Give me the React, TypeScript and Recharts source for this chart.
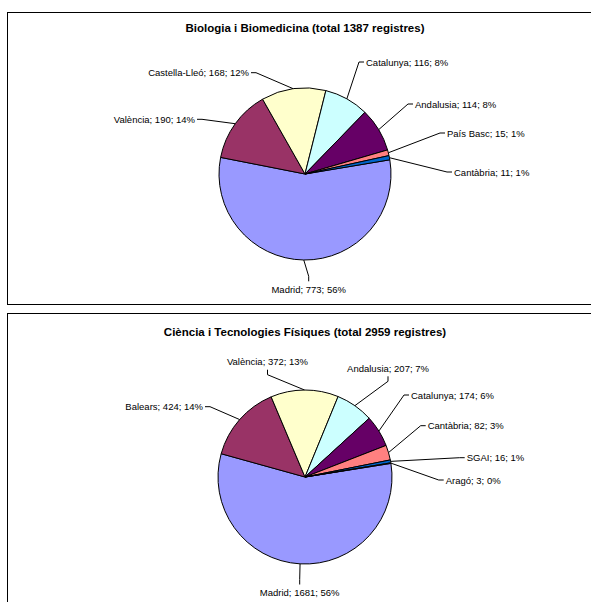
import React from 'react'
import { PieChart, Pie, Cell } from 'recharts'

// Biologia i Biomedicina
const bioRegions = ['Madrid', 'València', 'Castella-Lleó', 'Catalunya', 'Andalusia', 'País Basc', 'Cantàbria']
const bioCounts = [773, 190, 168, 116, 114, 15, 11]
const bioPercents = ['56%', '14%', '12%', '8%', '8%', '1%', '1%']

// Ciència i Tecnologies Físiques
const fisRegions = ['Madrid', 'Balears', 'València', 'Andalusia', 'Catalunya', 'Cantàbria', 'SGAI', 'Aragó']
const fisCounts = [1681, 424, 372, 207, 174, 82, 16, 3]
const fisPercents = ['56%', '14%', '13%', '7%', '6%', '3%', '1%', '0%']

const palette = ['#9999FF', '#993366', '#FFFFCC', '#CCFFFF', '#660066', '#FF8080', '#0066CC', '#CCCCFF']

// label placement, offsets from the pie centre (like labels dragged by hand in the original)
type Side = 'left' | 'right' | 'top' | 'bottom'
interface LabelPos { dx: number; dy: number; side: Side }

const bioLabelPos: LabelPos[] = [
  { dx: 3.7, dy: 115.3, side: 'top' },
  { dx: -110, dy: -54.7, side: 'right' },
  { dx: -56, dy: -101.3, side: 'right' },
  { dx: 61, dy: -112, side: 'left' },
  { dx: 110, dy: -70, side: 'left' },
  { dx: 142, dy: -41, side: 'left' },
  { dx: 149, dy: -2, side: 'left' },
]

const fisLabelPos: LabelPos[] = [
  { dx: -5.3, dy: 115.5, side: 'top' },
  { dx: -102, dy: -70.3, side: 'right' },
  { dx: -37.5, dy: -115.3, side: 'bottom' },
  { dx: 83, dy: -108.7, side: 'bottom' },
  { dx: 106, dy: -82, side: 'left' },
  { dx: 122.7, dy: -51.3, side: 'left' },
  { dx: 161.7, dy: -19.3, side: 'left' },
  { dx: 140.7, dy: 3, side: 'left' },
]

const FONT = '"Liberation Sans", Arial, sans-serif'
const RADIAN = Math.PI / 180

function makeLabel(regions: string[], percents: string[], layout: LabelPos[]) {
  return (props: any) => {
    const { cx, cy, midAngle, outerRadius, value } = props
    const name = props.name ?? props.payload?.name
    const i = regions.indexOf(name)
    const pos = layout[i]
    const ex = cx + outerRadius * Math.cos(-midAngle * RADIAN)
    const ey = cy + outerRadius * Math.sin(-midAngle * RADIAN)
    const tx = cx + pos.dx
    const ty = cy + pos.dy
    let pts: number[][]
    let anchor: 'start' | 'end' | 'middle'
    if (pos.side === 'left') {
      anchor = 'start'
      pts = [[ex, ey], [tx - 7, ty], [tx - 2, ty]]
    } else if (pos.side === 'right') {
      anchor = 'end'
      pts = [[ex, ey], [tx + 7, ty], [tx + 2, ty]]
    } else if (pos.side === 'bottom') {
      anchor = 'middle'
      pts = [[ex, ey], [tx, ty + 13], [tx, ty + 8]]
    } else {
      anchor = 'middle'
      pts = [[ex, ey], [tx, ty - 13], [tx, ty - 8]]
    }
    return (
      <g key={`lbl-${name}`}>
        <polyline points={pts.map((p) => p.join(',')).join(' ')} fill="none" stroke="#000" strokeWidth={1} />
        <text x={tx} y={ty} textAnchor={anchor} dominantBaseline="central" fontFamily={FONT} fontSize={9.5} fill="#000">
          {`${name}; ${value}; ${percents[i]}`}
        </text>
      </g>
    )
  }
}

interface PanelProps {
  title: string
  regions: string[]
  counts: number[]
  percents: string[]
  layout: LabelPos[]
  top: number
  height: number
  titleTop: number
  cy: number
  radius: number
  startAngle: number
}

function PiePanel({ title, regions, counts, percents, layout, top, height, titleTop, cy, radius, startAngle }: PanelProps) {
  const data = regions.map((name, i) => ({ name, value: counts[i] }))
  return (
    <div
      style={{
        position: 'absolute',
        left: 7,
        top,
        width: 600,
        height,
        boxSizing: 'border-box',
        border: '1px solid #000',
        background: '#fff',
      }}
    >
      <div
        style={{
          position: 'absolute',
          left: 0,
          top: titleTop,
          width: 594,
          textAlign: 'center',
          fontFamily: FONT,
          fontWeight: 'bold',
          fontSize: 11.5,
          lineHeight: '14px',
          color: '#000',
        }}
      >
        {title}
      </div>
      <div style={{ position: 'absolute', left: 0, top: 0 }}>
        <PieChart width={590} height={height} margin={{ top: 0, right: 0, bottom: 0, left: 0 }}>
          <Pie
            data={data}
            dataKey="value"
            nameKey="name"
            cx={297}
            cy={cy}
            outerRadius={radius}
            startAngle={startAngle}
            endAngle={startAngle - 360}
            stroke="#000"
            strokeWidth={1}
            label={makeLabel(regions, percents, layout)}
            labelLine={false}
            isAnimationActive={false}
          >
            {data.map((entry, index) => (
              <Cell key={entry.name} fill={palette[index % palette.length]} />
            ))}
          </Pie>
        </PieChart>
      </div>
    </div>
  )
}

export default function App() {
  return (
    <div style={{ position: 'fixed', left: 0, top: 0, width: 591, height: 602, overflow: 'hidden', background: '#fff' }}>
      <PiePanel
        title="Biologia i Biomedicina (total 1387 registres)"
        regions={bioRegions}
        counts={bioCounts}
        percents={bioPercents}
        layout={bioLabelPos}
        top={12}
        height={293}
        titleTop={8}
        cy={161}
        radius={86}
        startAngle={9.5}
      />
      <PiePanel
        title="Ciència i Tecnologies Físiques (total 2959 registres)"
        regions={fisRegions}
        counts={fisCounts}
        percents={fisPercents}
        layout={fisLabelPos}
        top={313}
        height={300}
        titleTop={11}
        cy={163}
        radius={87}
        startAngle={9}
      />
    </div>
  )
}
